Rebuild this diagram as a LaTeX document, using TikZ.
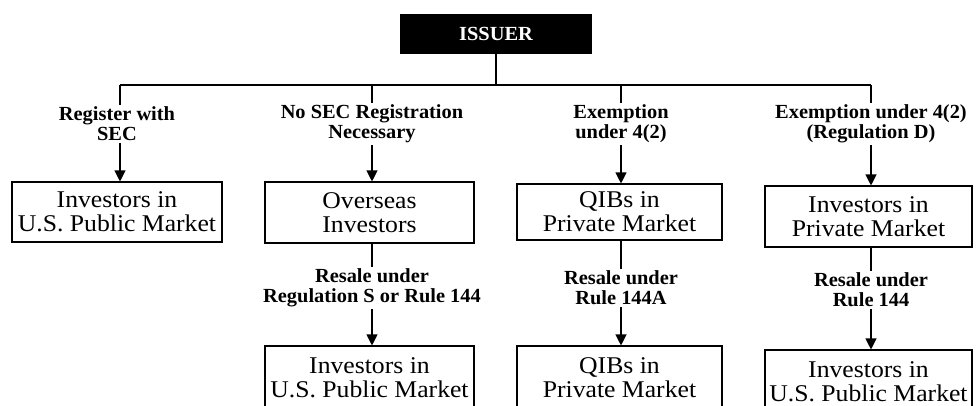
\documentclass[tikz,border=0pt]{standalone}
\usepackage{fontspec}
\setmainfont{Liberation Serif}[FakeStretch=1.07]
\newfontfamily\labfont{Liberation Serif}[FakeStretch=1.02]
\usetikzlibrary{arrows.meta}
\begin{document}
\begin{tikzpicture}[x=1pt,y=-1pt,
 box/.style={draw,line width=1.1pt,inner sep=0pt,align=center,font=\fontsize{24}{24}\selectfont},
 lab/.style={inner sep=2pt,align=center,font=\labfont\bfseries\fontsize{20}{20}\selectfont},
 conn/.style={line width=1.1pt},
 arr/.style={line width=1.1pt,-{Triangle[width=11pt,length=11pt]}}]
\useasboundingbox (0,0) rectangle (980,405);
\clip (0,0) rectangle (980,405);
\node[fill=black,minimum width=192pt,minimum height=40pt,inner sep=0pt,text=white,font=\labfont\bfseries\fontsize{20}{20}\selectfont] (issuer) at (496,34) {ISSUER};
% bus
\coordinate (t1) at (120,85);
\coordinate (t2) at (372,85);
\coordinate (t3) at (621,85);
\coordinate (t4) at (871,85);
% labels row 1
\node[lab] (l1) at (117,124) {Register with\\SEC};
\node[lab] (l2) at (372,124) {No SEC Registration\\Necessary};
\node[lab] (l3) at (621,124) {Exemption\\under 4(2)};
\node[lab] (l4) at (871,124) {Exemption under 4(2)\\(Regulation D)};
% boxes row 1
\node[box,minimum width=210pt,minimum height=60pt] (b1) at (117,212) {Investors in\\U.S. Public Market};
\node[box,minimum width=209pt,minimum height=61pt] (b2) at (369.5,212.5) {Overseas\\Investors};
\node[box,minimum width=205pt,minimum height=56pt] (b3) at (619.5,212) {QIBs in\\Private Market};
\node[box,minimum width=207pt,minimum height=61pt] (b4) at (868.5,216.5) {Investors in\\Private Market};
% labels row 2
\node[lab] (r2) at (372,288) {Resale under\\Regulation S or Rule 144};
\node[lab] (r3) at (621,288) {Resale under\\Rule 144A};
\node[lab] (r4) at (871,290) {Resale under\\Rule 144};
% boxes row 2
\node[box,minimum width=209pt,minimum height=64pt] (c2) at (369.5,378) {Investors in\\U.S. Public Market};
\node[box,minimum width=205pt,minimum height=64pt] (c3) at (619.5,378) {QIBs in\\Private Market};
\node[box,minimum width=207pt,minimum height=64pt] (c4) at (868.5,382) {Investors in\\U.S. Public Market};
% connectors
\draw[conn] (issuer.south) -- (issuer.south |- t1);
\draw[conn] (t1) -- (t4);
\foreach \i in {1,2,3,4}{
  \draw[conn] (t\i) -- (t\i |- l\i.north);
  \draw[arr] (t\i |- l\i.south) -- (t\i |- b\i.north);
}
\foreach \i in {2,3,4}{
  \draw[conn] (t\i |- b\i.south) -- (t\i |- r\i.north);
  \draw[arr] (t\i |- r\i.south) -- (t\i |- c\i.north);
}
\end{tikzpicture}
\end{document}
